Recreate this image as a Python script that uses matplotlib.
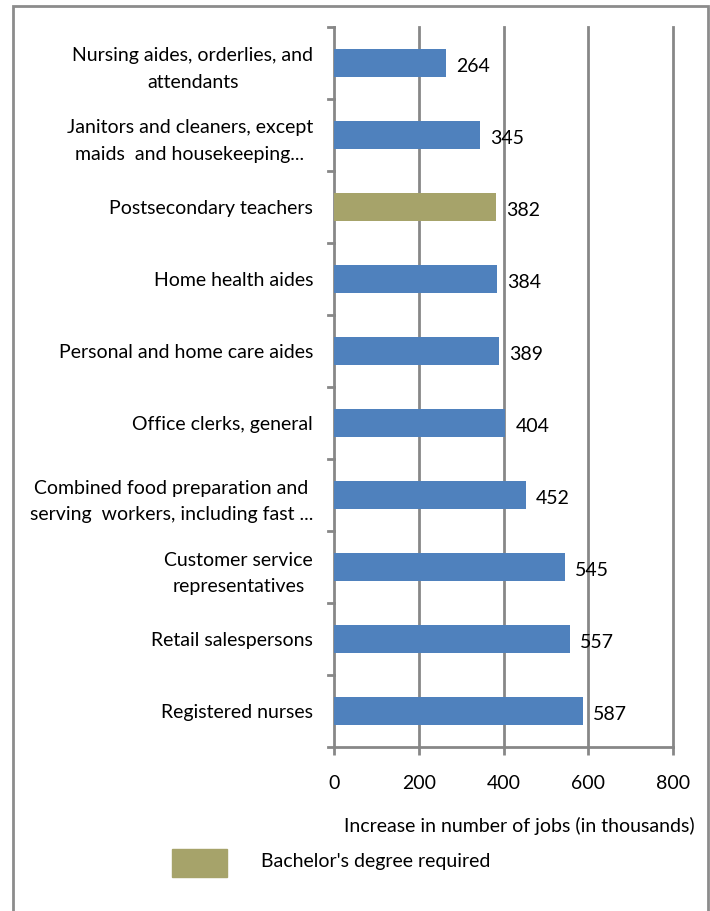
import matplotlib.pyplot as plt
from matplotlib.patches import Rectangle

plt.rcParams['font.family'] = ['Lato', 'DejaVu Sans']

# occupations, top to bottom
jobs = [
    "Nursing aides, orderlies, and\nattendants",
    "Janitors and cleaners, except\nmaids  and housekeeping...",
    "Postsecondary teachers",
    "Home health aides",
    "Personal and home care aides",
    "Office clerks, general",
    "Combined food preparation and\nserving  workers, including fast ...",
    "Customer service\nrepresentatives",
    "Retail salespersons",
    "Registered nurses",
]
growth = [264, 345, 382, 384, 389, 404, 452, 545, 557, 587]
bachelor = [False, False, True, False, False, False, False, False, False, False]
ticks = [0, 200, 400, 600, 800]

blue = '#4F81BD'
olive = '#A6A36A'
grid = '#878787'
fs = 14

fig = plt.figure(figsize=(7.1, 9.11), dpi=100)
ax = fig.add_axes([334 / 710, 1 - 747 / 911, 339 / 710, 720 / 911])

n = len(jobs)
ypos = list(range(n))[::-1]
colors = [olive if b else blue for b in bachelor]
ax.barh(ypos, growth, height=0.39, color=colors, zorder=3)

for y, v in zip(ypos, growth):
    ax.text(v + 24, y - 0.05, str(v), va='center', ha='left', fontsize=fs, zorder=4)

ax.set_xlim(0, 800)
ax.set_ylim(-0.5, n - 0.5)
ax.set_xticks(ticks)
ax.set_xticklabels([str(t) for t in ticks], fontsize=fs)
ax.set_yticks(ypos)
ax.set_yticklabels(jobs, fontsize=fs, ha='right', multialignment='center', linespacing=1.65)
ax.tick_params(axis='y', length=0, pad=15)
ax.tick_params(axis='x', length=6, width=2, color=grid, pad=14)

# category separators on the y axis
for b in range(n + 1):
    ax.plot([-15, 0], [b - 0.5, b - 0.5], color=grid, lw=2, clip_on=False, zorder=5)

# vertical gridlines, drawn unclipped so the one at 800 keeps full width
for t in ticks[1:]:
    ax.plot([t, t], [-0.5, n - 0.5], color=grid, lw=2, clip_on=False, zorder=1)

for s in ['top', 'right']:
    ax.spines[s].set_visible(False)
for s in ['left', 'bottom']:
    ax.spines[s].set_color(grid)
    ax.spines[s].set_linewidth(2)

fig.text(695 / 710, 1 - 826 / 911, 'Increase in number of jobs (in thousands)',
         ha='right', va='center', fontsize=fs)

# legend entry
fig.patches.append(Rectangle((172 / 710, 1 - 877 / 911), 55 / 710, 28 / 911,
                             transform=fig.transFigure, color=olive))
fig.text(261 / 710, 1 - 862 / 911, "Bachelor's degree required",
         ha='left', va='center', fontsize=fs)

# outer frame
fig.patches.append(Rectangle((13 / 710, -0.01), 695 / 710, 1.01 - 6 / 911,
                             transform=fig.transFigure, fill=False,
                             edgecolor='#8C8C8C', lw=2))

fig.savefig('out.png', dpi=100)
